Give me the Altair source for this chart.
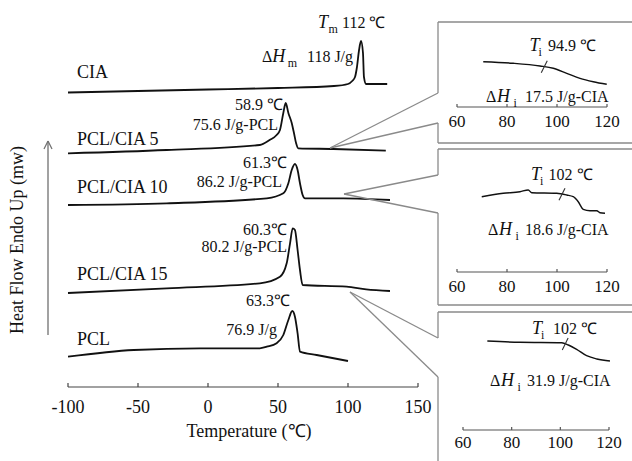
import altair as alt
import numpy as np
import pandas as pd

W, H = 632, 461
SERIF = "Liberation Serif"
INK = "#111111"
GRAY = "#8a8a8a"
AXIS_INK = "#444444"

# ---------------------------------------------------------------------------
# Main DSC heating traces: temperature (°C) vs heat flow (mW, offset per sample)
# ---------------------------------------------------------------------------
SERIES = ["CIA", "PCL/CIA 5", "PCL/CIA 10", "PCL/CIA 15", "PCL"]

CIA_T = [-100, -50, 0, 50, 90, 100, 103, 105, 106.4, 107.9, 109.3, 110.7, 111.4, 112.9, 128]
CIA_HF = [29.45, 29.6, 29.75, 29.9, 30.1, 30.3, 30.6, 31.0, 32.0, 33.7, 34.6, 33.4, 31.0, 30.3, 30.3]

PC5_T = [-100, -29.5, 37, 44, 49, 51.4, 53.8, 55.5, 57.4, 59.8, 61.4, 62.9, 64.5, 89.5, 127]
PC5_HF = [23.37, 23.7, 24.2, 24.7, 25.2, 25.7, 27.4, 28.4, 27.4, 26.4, 25.4, 24.4, 23.87, 23.8, 23.63]

PC10_T = [-100, -29.5, 42, 53.8, 57.4, 59.8, 62.1, 64, 65.7, 67.6, 69.3, 96.7, 130]
PC10_HF = [18.2, 18.37, 18.87, 19.37, 20.37, 21.7, 22.3, 21.7, 20.37, 19.2, 18.87, 18.87, 18.7]

PC15_T = [-100, -29.5, 37, 51.4, 56.2, 58.6, 60.5, 62.1, 64, 65.7, 67.6, 99, 113, 130]
PC15_HF = [9.4, 9.87, 10.37, 11.03, 12.37, 14.37, 15.87, 15.7, 13.7, 11.7, 10.2, 10.03, 9.77, 9.6]

PCL_T = [-100, -53, -5.7, 37, 42, 49, 53.8, 57.4, 60.2, 62.1, 64, 65.7, 77.6, 100]
PCL_HF = [3.03, 3.7, 3.87, 3.87, 4.03, 4.37, 5.2, 6.7, 7.6, 7.03, 5.37, 3.53, 3.2, 2.6]

MAIN_TICKS = [-100, -50, 0, 50, 100, 150]
MAIN_TICK_LABELS = ["-100", "-50", "0", "50", "100", "150"]
X_TITLE = "Temperature (℃)"
Y_TITLE = "Heat Flow Endo Up (mw)"

# Labels of the main panel: (text, temperature, heat flow, kind)
MAIN_LABELS = [
    ("CIA", -93.6, 31.4, "name"),
    ("PCL/CIA 5", -93.6, 24.7, "name"),
    ("PCL/CIA 10", -93.6, 19.9, "name"),
    ("PCL/CIA 15", -93.6, 11.2, "name"),
    ("PCL", -93.6, 4.7, "name"),
    ("T", 78.6, 36.4, "sym"),
    ("m", 86.0, 35.8, "sub"),
    ("112 ℃", 95.7, 36.4, "val"),
    ("Δ", 38.6, 33.0, "val"),
    ("H", 45.9, 33.0, "sym"),
    ("m", 57.0, 32.4, "sub"),
    ("118 J/g", 70.7, 33.0, "val"),
    ("58.9 ℃", 53.6, 28.2, "peak"),
    ("75.6 J/g-PCL", 50.0, 26.2, "peak"),
    ("61.3℃", 56.4, 22.4, "peak"),
    ("86.2 J/g-PCL", 52.9, 20.5, "peak"),
    ("60.3℃", 56.4, 15.7, "peak"),
    ("80.2 J/g-PCL", 56.4, 14.0, "peak"),
    ("63.3℃", 58.6, 8.6, "peak"),
    ("76.9 J/g", 49.3, 5.7, "peak"),
]

# ---------------------------------------------------------------------------
# Magnified isotropization region (60–120 °C) for the three blends
# ---------------------------------------------------------------------------
IN1_T = [70.5, 82.5, 93.2, 98.5, 103.9, 109.2, 114.5, 119.9]
IN1_V = [4.53, 4.37, 4.1, 3.87, 3.37, 2.87, 2.53, 2.27]

IN2_T = [69.9, 78.5, 85.2, 88.5, 89.9, 99.9, 103.9, 106.5, 108.5, 110.5, 113.2, 115.9, 117.2, 119.2]
IN2_V = [7.53, 7.87, 8.03, 8.2, 7.93, 7.87, 7.7, 7.53, 7.03, 6.27, 6.13, 6.13, 5.93, 5.87]

IN3_T = [70, 83.4, 100.6, 103.3, 106.7, 110.8, 115, 120.4]
IN3_V = [8.9, 8.77, 8.73, 8.5, 8.07, 7.43, 7.1, 6.9]

T_I = [94.9, 102, 102]
DH_I = ["17.5", "18.6", "31.9"]
INSET_TICKS = [60, 80, 100, 120]
INSET_TICK_LABELS = ["60", "80", "100", "120"]

INSET_LABELS = [
    [("T", 89.0, 6.1, "sym"), ("i", 92.6, 5.5, "sub"), (f"{T_I[0]} ℃", 96.4, 6.1, "val"),
     ("Δ", 71.6, 1.0, "val"), ("H", 76.0, 1.0, "sym"), ("i", 82.6, 0.4, "sub"),
     (f"{DH_I[0]} J/g-CIA", 87.2, 1.0, "val")],
    [("T", 89.6, 9.7, "sym"), ("i", 93.2, 9.1, "sub"), (f"{T_I[1]} ℃", 96.6, 9.7, "val"),
     ("Δ", 72.4, 4.2, "val"), ("H", 76.8, 4.2, "sym"), ("i", 83.4, 3.6, "sub"),
     (f"{DH_I[1]} J/g-CIA", 87.2, 4.2, "val")],
    [("T", 88.4, 10.1, "sym"), ("i", 92.1, 9.5, "sub"), (f"{T_I[2]} ℃", 97.0, 10.1, "val"),
     ("Δ", 71.1, 4.9, "val"), ("H", 75.6, 4.9, "sym"), ("i", 82.4, 4.3, "sub"),
     (f"{DH_I[2]} J/g-CIA", 86.3, 4.9, "val")],
]

# ---------------------------------------------------------------------------
# Layout (pixels) and axis-label placement (panel units below each axis line)
# ---------------------------------------------------------------------------
MAIN_X_RANGE = [68, 418]
MAIN_AXIS_Y = 387
MAIN_LABEL_DROP = -2.1
MAIN_TITLE_DROP = -4.5
MAIN_TITLE_T = 29.3
INSET_LAYOUT = [
    dict(x0=457, x1=607, axis_y=107, drop=-1.5),
    dict(x0=457, x1=607, axis_y=272, drop=-1.5),
    dict(x0=463, x1=609, axis_y=430, drop=-1.3),
]
BOX_LEFT = 438
# (top, notch_top, notch_bottom, bottom, apex_x, apex_y) for each inset frame
FRAMES = [
    (22, 93, 123, 143, 330, 148),
    (149, 175, 213, 305, 344, 194),
    (312, 338, 377, H + 5, 350, 292),
]
Y_ARROW = dict(x=48, top=141, bottom=335)
Y_TITLE_POS = (18, 240)

TEXT_STYLES = {
    "name": dict(fontSize=18, align="left"),
    "peak": dict(fontSize=16, align="right"),
    "val": dict(fontSize=16, align="left"),
    "sym": dict(fontSize=18, align="left", fontStyle="italic"),
    "sub": dict(fontSize=12, align="left"),
    "tick": dict(fontSize=18, align="center"),
    "itick": dict(fontSize=17, align="center"),
    "title": dict(fontSize=18, align="center"),
}


def curves_frame(names, ts, vs):
    rows = []
    for name, t, v in zip(names, ts, vs):
        for i, (a, b) in enumerate(zip(t, v)):
            rows.append({"series": name, "T": a, "v": b, "i": i})
    return pd.DataFrame(rows)


def text_layers(labels, xs, ys):
    df = pd.DataFrame(labels, columns=["text", "T", "v", "kind"])
    out = []
    for kind, st in TEXT_STYLES.items():
        sub = df[df.kind == kind]
        if sub.empty:
            continue
        out.append(
            alt.Chart(sub).mark_text(font=SERIF, color=INK, baseline="middle", **st).encode(
                x=alt.X("T:Q", scale=xs, axis=None),
                y=alt.Y("v:Q", scale=ys, axis=None),
                text="text:N",
            )
        )
    return out


def axis_layers(values, lo, hi, xs, ys, tick_len, color):
    """Axis line along v = 0 with short inward ticks at each value."""
    line = alt.Chart(pd.DataFrame({"a": [lo], "b": [hi]})).mark_rule(
        color=color, strokeWidth=1.2
    ).encode(
        x=alt.X("a:Q", scale=xs, axis=None), x2="b:Q",
        y=alt.YDatum(0, scale=ys, axis=None),
    )
    ticks = alt.Chart(pd.DataFrame({"T": values})).mark_rule(color=color, strokeWidth=1.2).encode(
        x=alt.X("T:Q", scale=xs, axis=None),
        y=alt.YDatum(0, scale=ys, axis=None),
        y2=alt.Y2Datum(tick_len),
    )
    return [line, ticks]


# ---------------- main panel ----------------
MX = alt.Scale(domain=[-100, 150], range=MAIN_X_RANGE, nice=False, zero=False)
MY = alt.Scale(domain=[0, MAIN_AXIS_Y / 10], range=[MAIN_AXIS_Y, 0], nice=False, zero=False)

main_df = curves_frame(SERIES, [CIA_T, PC5_T, PC10_T, PC15_T, PCL_T],
                       [CIA_HF, PC5_HF, PC10_HF, PC15_HF, PCL_HF])

main_curves = alt.Chart(main_df).mark_line(
    color=INK, strokeWidth=1.8, interpolate="monotone"
).encode(
    x=alt.X("T:Q", scale=MX, axis=None),
    y=alt.Y("v:Q", scale=MY, axis=None),
    detail="series:N",
    order="i:Q",
)

main_axis_text = [(lab, t, MAIN_LABEL_DROP, "tick") for lab, t in zip(MAIN_TICK_LABELS, MAIN_TICKS)]
main_axis_text.append((X_TITLE, MAIN_TITLE_T, MAIN_TITLE_DROP, "title"))

main = alt.layer(
    main_curves,
    *axis_layers(MAIN_TICKS, MAIN_TICKS[0], MAIN_TICKS[-1], MX, MY, 0.4, AXIS_INK),
    *text_layers(MAIN_LABELS + main_axis_text, MX, MY),
)

# ---------------- insets ----------------
inset_charts = []
for k, (ts, vs) in enumerate([(IN1_T, IN1_V), (IN2_T, IN2_V), (IN3_T, IN3_V)]):
    lay = INSET_LAYOUT[k]
    xs = alt.Scale(domain=[60, 120], range=[lay["x0"], lay["x1"]], nice=False, zero=False)
    ys = alt.Scale(domain=[0, 10], range=[lay["axis_y"], lay["axis_y"] - 100], nice=False, zero=False)
    curve = alt.Chart(pd.DataFrame({"T": ts, "v": vs})).mark_line(
        color=INK, strokeWidth=1.4, interpolate="monotone"
    ).encode(
        x=alt.X("T:Q", scale=xs, axis=None),
        y=alt.Y("v:Q", scale=ys, axis=None),
    )
    # short slash marking the isotropization temperature on the trace
    vi = float(np.interp(T_I[k], ts, vs))
    slash = alt.Chart(pd.DataFrame({"a": [T_I[k] - 1.2], "b": [T_I[k] + 1.2],
                                    "c": [vi - 0.6], "d": [vi + 0.6]})).mark_rule(
        color="#333333", strokeWidth=1.1
    ).encode(
        x=alt.X("a:Q", scale=xs, axis=None), x2="b:Q",
        y=alt.Y("c:Q", scale=ys, axis=None), y2="d:Q",
    )
    tick_text = [(lab, t, lay["drop"], "itick") for lab, t in zip(INSET_TICK_LABELS, INSET_TICKS)]
    inset_charts.append(
        alt.layer(
            curve, slash,
            *axis_layers(INSET_TICKS, INSET_TICKS[0], INSET_TICKS[-1], xs, ys, 0.3, "#555555"),
            *text_layers(INSET_LABELS[k] + tick_text, xs, ys),
        )
    )

# ---------------- frames, callouts and the y-axis arrow ----------------
PX = alt.Scale(domain=[0, W], range=[0, W], nice=False, zero=False)
PY = alt.Scale(domain=[0, H], range=[0, H], nice=False, zero=False)

segs = []
for top, n1, n2, bottom, ax, ay in FRAMES:
    segs += [
        (BOX_LEFT, top, W + 5, top),
        (BOX_LEFT, top, BOX_LEFT, n1),
        (BOX_LEFT, n2, BOX_LEFT, bottom),
        (BOX_LEFT, bottom, W + 5, bottom),
        (ax, ay, BOX_LEFT, n1),
        (ax, ay, BOX_LEFT, n2),
    ]
seg_df = pd.DataFrame(segs, columns=["x", "y", "x2", "y2"])

ax_x, ax_top, ax_bot = Y_ARROW["x"], Y_ARROW["top"], Y_ARROW["bottom"]
arrow_df = pd.DataFrame(
    [(ax_x, ax_top, ax_x, ax_bot), (ax_x, ax_top, ax_x - 4, ax_top + 8), (ax_x, ax_top, ax_x + 4, ax_top + 8)],
    columns=["x", "y", "x2", "y2"],
)


def seg_layer(df, color, width):
    return alt.Chart(df).mark_rule(color=color, strokeWidth=width).encode(
        x=alt.X("x:Q", scale=PX, axis=None), x2="x2:Q",
        y=alt.Y("y:Q", scale=PY, axis=None), y2="y2:Q",
    )


ytitle = alt.Chart(pd.DataFrame({"x": [Y_TITLE_POS[0]], "y": [Y_TITLE_POS[1]], "t": [Y_TITLE]})).mark_text(
    font=SERIF, fontSize=18, color=INK, angle=270, align="center", baseline="middle"
).encode(
    x=alt.X("x:Q", scale=PX, axis=None),
    y=alt.Y("y:Q", scale=PY, axis=None),
    text="t:N",
)

deco = alt.layer(seg_layer(seg_df, GRAY, 1.3), seg_layer(arrow_df, "#707070", 1.3), ytitle)

chart = (
    alt.layer(main, *inset_charts, deco)
    .resolve_scale(x="independent", y="independent")
    .properties(width=W, height=H, autosize=alt.AutoSizeParams(type="none"), padding=0)
    .configure_view(stroke=None)
)

chart.save("out.html", embed_options={"renderer": "svg", "actions": False})
